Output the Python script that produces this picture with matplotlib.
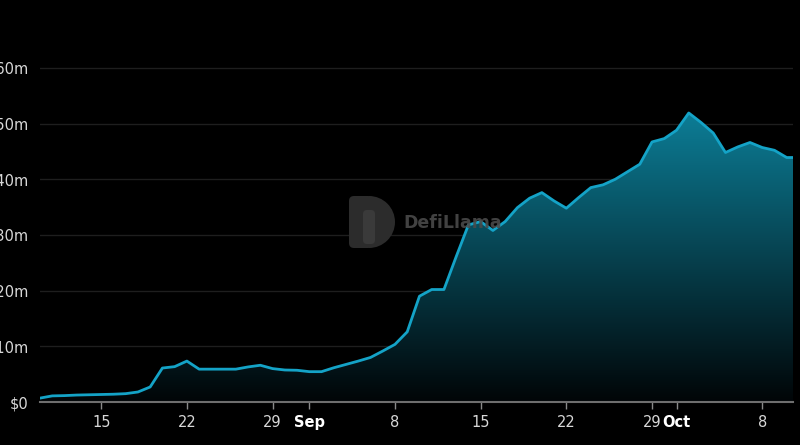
import numpy as np
import pandas as pd
import matplotlib.pyplot as plt
import matplotlib.dates as mdates
from matplotlib.colors import LinearSegmentedColormap
from matplotlib.patches import Wedge, FancyBboxPatch

# TVL in millions of USD, one value per day
dates = pd.date_range('2024-08-10', '2024-10-11')
tvl = [0.7, 1.1, 1.15, 1.25, 1.3, 1.35, 1.4, 1.5, 1.8, 2.7,
       6.1, 6.35, 7.35, 5.9, 5.9, 5.9, 5.9, 6.3, 6.6, 6.0,
       5.75, 5.7,
       5.45, 5.45, 6.15, 6.75, 7.35, 8.0, 9.15, 10.35, 12.6, 19.0,
       20.2, 20.2, 26.1, 31.8, 32.4, 30.8, 32.4, 34.9, 36.6, 37.6,
       36.1, 34.8, 36.7, 38.5, 39.0, 40.0, 41.35, 42.7, 46.7, 47.3,
       48.8, 51.9, 50.2, 48.3, 44.8, 45.8, 46.6, 45.7, 45.2, 43.9, 43.9]

tick_dates = ['2024-08-15', '2024-08-22', '2024-08-29', '2024-09-01',
              '2024-09-08', '2024-09-15', '2024-09-22', '2024-09-29',
              '2024-10-01', '2024-10-08']
tick_labels = ['15', '22', '29', 'Sep', '8', '15', '22', '29', 'Oct', '8']
y_ticks = [0, 10, 20, 30, 40, 50, 60]
y_labels = ['$0', '$10m', '$20m', '$30m', '$40m', '$50m', '$60m']

line_color = '#14a3c7'

x = mdates.date2num(dates)
y = np.array(tvl)

fig = plt.figure(figsize=(8, 4.45), dpi=100, facecolor='black')
ax = fig.add_axes([0.05, 0.0966, 0.941, 0.8135])
ax.set_facecolor('black')

# gradient fill under the curve
poly = ax.fill_between(x, y, 0, color='none', lw=0)
cmap = LinearSegmentedColormap.from_list('g', ['#010507', '#0c7d96'])
grad = np.linspace(0, 1, 256).reshape(-1, 1)
img = ax.imshow(grad, cmap=cmap, origin='lower', aspect='auto',
                extent=[x[0], x[-1], 0, y.max()], zorder=1)
img.set_clip_path(poly.get_paths()[0], transform=ax.transData)

ax.plot(x, y, color=line_color, lw=2, zorder=3, solid_joinstyle='round')

ax.set_xlim(x[0], mdates.date2num(pd.Timestamp('2024-10-10 12:00')))
ax.set_ylim(0, 65)

ax.set_yticks(y_ticks)
ax.set_yticklabels(y_labels)
ax.tick_params(axis='y', length=0, pad=8, labelsize=10.5, labelcolor='#d8d8d8')
ax.grid(axis='y', color='#1e1e1e', lw=1)
ax.set_axisbelow(True)

ax.set_xticks(mdates.date2num(pd.to_datetime(tick_dates)))
ax.set_xticklabels(tick_labels)
ax.tick_params(axis='x', length=5, width=1, color='#8a8a8a', pad=4,
               labelsize=10.5, labelcolor='#d8d8d8')
for lbl in ax.get_xticklabels():
    if lbl.get_text() in ('Sep', 'Oct'):
        lbl.set_fontweight('bold')
        lbl.set_color('white')

for s in ['top', 'right', 'left']:
    ax.spines[s].set_visible(False)
ax.spines['bottom'].set_color('#6e6e6e')
ax.spines['bottom'].set_linewidth(1.5)

# DefiLlama watermark
wm = '#2c2c2c'
ax_wm = fig.add_axes([347 / 800, 1 - 250 / 445, 50 / 800, 56 / 445])
ax_wm.set_xlim(0, 50)
ax_wm.set_ylim(0, 56)
ax_wm.axis('off')
ax_wm.add_patch(FancyBboxPatch((2, 2), 24, 52, boxstyle='round,pad=0,rounding_size=5',
                               color=wm, lw=0))
ax_wm.add_patch(Wedge((22, 28), 26, -90, 90, color=wm, lw=0))
ax_wm.add_patch(FancyBboxPatch((16, 6), 12, 34, boxstyle='round,pad=0,rounding_size=4',
                               color='#3a3a3a', lw=0))
fig.text(403 / 800, 1 - 223 / 445, 'DefiLlama', color='#4a4a4a', fontsize=12.5,
         fontweight='bold', va='center', ha='left', alpha=0.9, zorder=10)

fig.savefig('out.png', dpi=100, facecolor='black')
